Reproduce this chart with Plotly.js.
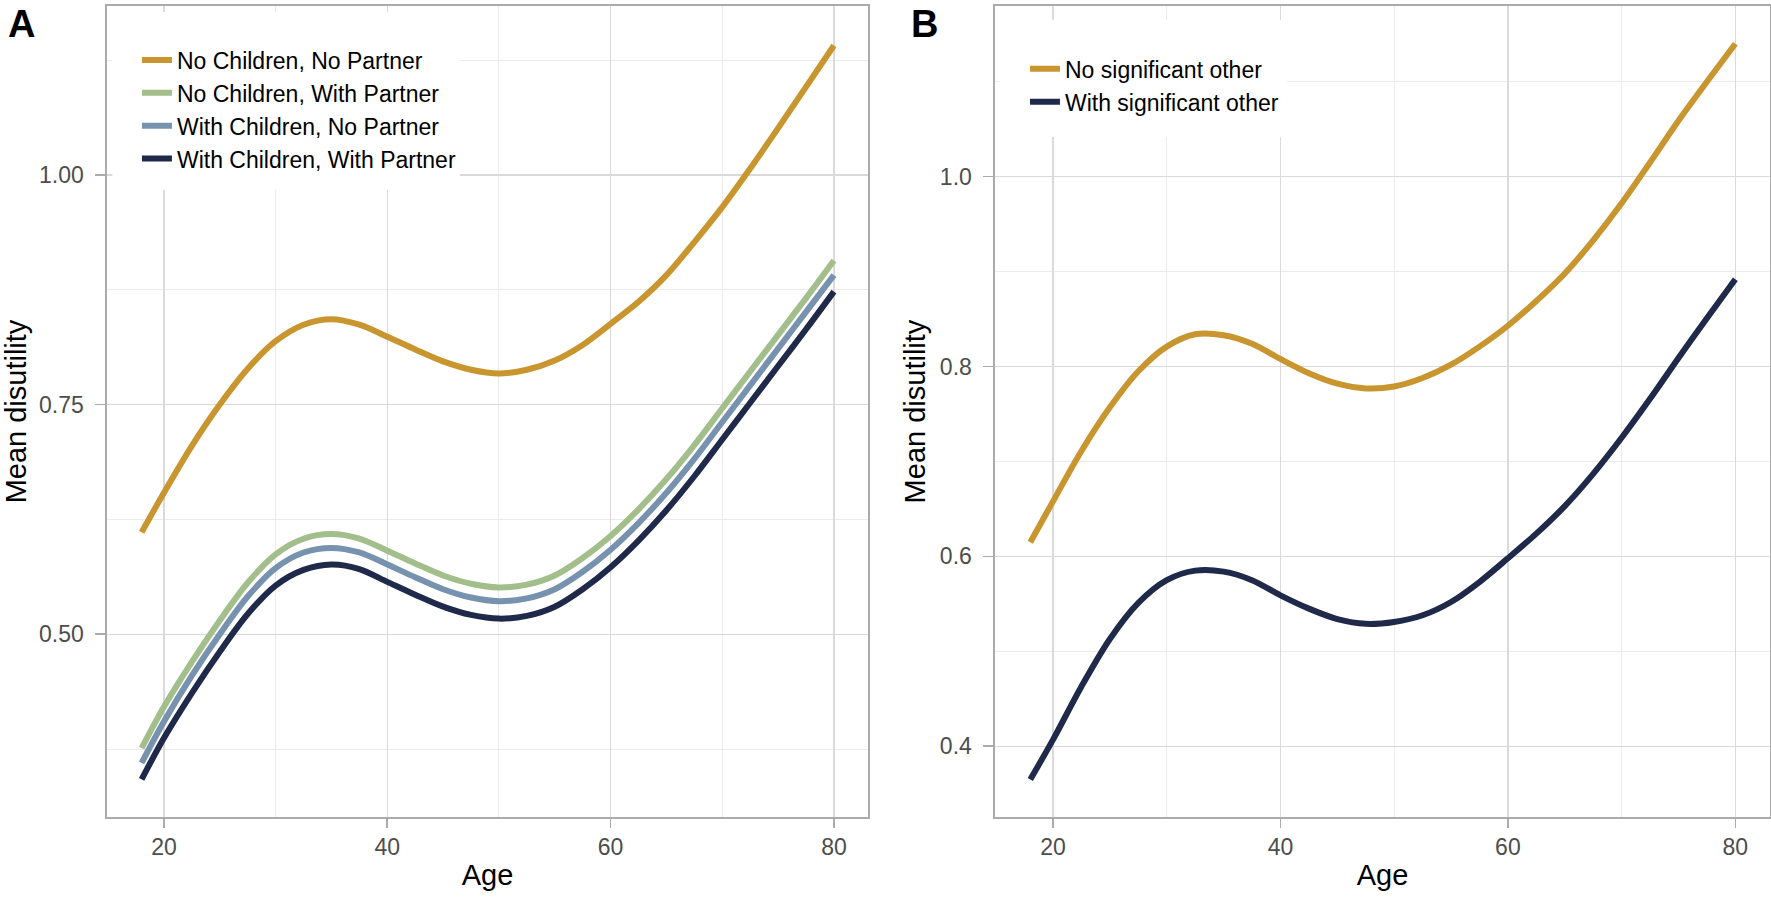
<!DOCTYPE html>
<html>
<head>
<meta charset="utf-8">
<script src="https://cdn.plot.ly/plotly-3.0.1.min.js"></script>
<style>
  html, body { margin: 0; padding: 0; background: #fff; }
  #chart { width: 1771px; height: 902px; }
</style>
</head>
<body>
<div id="chart"></div>
<script>
// Ages at which the curves were read
const ages = [18, 20, 22.5, 25, 27.5, 30, 32.5, 35, 37.5, 40, 42.5, 45, 47.5, 50, 52.5, 55, 57.5, 60, 62.5, 65, 67.5, 70, 72.5, 75, 77.5, 80];

// Panel A series
const noChildNoPartner     = [0.611, 0.654, 0.705, 0.750, 0.789, 0.819, 0.837, 0.843, 0.837, 0.824, 0.810, 0.797, 0.788, 0.784, 0.788, 0.798, 0.815, 0.838, 0.862, 0.891, 0.927, 0.965, 1.007, 1.051, 1.096, 1.141];
const noChildWithPartner   = [0.376, 0.421, 0.470, 0.515, 0.556, 0.587, 0.604, 0.609, 0.604, 0.591, 0.577, 0.564, 0.555, 0.551, 0.554, 0.564, 0.583, 0.607, 0.636, 0.669, 0.706, 0.746, 0.786, 0.826, 0.866, 0.907];
const withChildNoPartner   = [0.360, 0.405, 0.455, 0.500, 0.541, 0.572, 0.589, 0.594, 0.589, 0.576, 0.562, 0.549, 0.540, 0.536, 0.539, 0.549, 0.568, 0.592, 0.621, 0.654, 0.691, 0.731, 0.771, 0.811, 0.851, 0.891];
const withChildWithPartner = [0.342, 0.387, 0.436, 0.481, 0.522, 0.553, 0.570, 0.576, 0.571, 0.557, 0.543, 0.530, 0.521, 0.517, 0.520, 0.530, 0.549, 0.573, 0.602, 0.635, 0.672, 0.712, 0.752, 0.792, 0.832, 0.873];

// Panel B series
const noSignificantOther   = [0.615, 0.658, 0.711, 0.757, 0.795, 0.821, 0.834, 0.833, 0.824, 0.808, 0.793, 0.782, 0.777, 0.779, 0.788, 0.802, 0.821, 0.843, 0.869, 0.898, 0.933, 0.972, 1.015, 1.059, 1.100, 1.140];
const withSignificantOther = [0.365, 0.407, 0.463, 0.513, 0.551, 0.575, 0.585, 0.584, 0.575, 0.559, 0.545, 0.534, 0.529, 0.531, 0.538, 0.552, 0.573, 0.598, 0.624, 0.653, 0.687, 0.725, 0.766, 0.809, 0.851, 0.892];

const namesA = ["No Children, No Partner", "No Children, With Partner", "With Children, No Partner", "With Children, With Partner"];
const namesB = ["No significant other", "With significant other"];

const C_ORANGE = "#C8952F", C_GREEN = "#A2BE8A", C_STEEL = "#7792AE", C_NAVY = "#1F294A";
const LW = 6;
const FONT = "Liberation Sans, Arial, sans-serif";

function tr(y, name, color, xa, ya, leg) {
  return { x: ages, y: y, name: name, type: "scatter", mode: "lines",
           line: { color: color, width: LW, shape: "spline", smoothing: 0.9 },
           xaxis: xa, yaxis: ya, legend: leg, hoverinfo: "skip" };
}

const data = [
  tr(noChildNoPartner,     namesA[0], C_ORANGE, "x", "y", "legend"),
  tr(noChildWithPartner,   namesA[1], C_GREEN,  "x", "y", "legend"),
  tr(withChildNoPartner,   namesA[2], C_STEEL,  "x", "y", "legend"),
  tr(withChildWithPartner, namesA[3], C_NAVY,   "x", "y", "legend"),
  tr(noSignificantOther,   namesB[0], C_ORANGE, "x2", "y2", "legend2"),
  tr(withSignificantOther, namesB[1], C_NAVY,   "x2", "y2", "legend2")
];

const GRID = "#DADADA", MINOR = "#EBEBEB", BORDER = "#ABABAB";
function xax(domain, anchor) {
  return {
    domain: domain, anchor: anchor, range: [14.9, 83.05], dtick: 20, tick0: 0,
    showgrid: true, gridcolor: GRID, gridwidth: 1.3,
    minor: { dtick: 10, showgrid: true, gridcolor: MINOR, gridwidth: 1 },
    showline: true, mirror: true, linecolor: BORDER, linewidth: 1.6,
    ticks: "outside", ticklen: 9, tickwidth: 1.6, tickcolor: BORDER,
    tickfont: { family: FONT, size: 23, color: "#4D4D4D" },
    ticklabelstandoff: 0,
    zeroline: false, fixedrange: true,
    title: { text: "Age", font: { family: FONT, size: 29, color: "#000" }, standoff: 5 }
  };
}
function yax(range, dtick, mdtick, fmt, anchor) {
  return {
    domain: [0, 1], anchor: anchor, range: range, dtick: dtick, tick0: 0, tickformat: fmt,
    showgrid: true, gridcolor: GRID, gridwidth: 1.3,
    minor: { dtick: mdtick, showgrid: true, gridcolor: MINOR, gridwidth: 1 },
    showline: true, mirror: true, linecolor: BORDER, linewidth: 1.6,
    ticks: "outside", ticklen: 10, tickwidth: 1.6, tickcolor: BORDER,
    tickfont: { family: FONT, size: 23, color: "#4D4D4D" },
    ticklabelstandoff: 7,
    zeroline: false, fixedrange: true,
    title: { text: "Mean disutility", font: { family: FONT, size: 29, color: "#000" }, standoff: 6 }
  };
}

const layout = {
  width: 1771, height: 902,
  margin: { l: 107, r: 1, t: 6, b: 85 },
  paper_bgcolor: "#fff", plot_bgcolor: "#fff",
  font: { family: FONT },
  xaxis: xax([0, 0.4576], "y"),
  yaxis: yax([0.301, 1.184], 0.25, 0.125, ".2f", "x"),
  xaxis2: xax([0.534, 1.0], "y2"),
  yaxis2: yax([0.3255, 1.1798], 0.2, 0.1, ".1f", "x2"),
  showlegend: true,
  legend: {
    x: 0.018, y: 0.960, xanchor: "left", yanchor: "top",
    bgcolor: "rgba(0,0,0,0)", borderwidth: 0,
    font: { family: FONT, size: 23, color: "#000" }, tracegroupgap: 0
  },
  legend2: {
    x: 0.552, y: 0.949, xanchor: "left", yanchor: "top",
    bgcolor: "rgba(0,0,0,0)", borderwidth: 0,
    font: { family: FONT, size: 23, color: "#000" }, tracegroupgap: 0
  },
  shapes: [
    { type: "rect", xref: "x domain", yref: "y domain", x0: 0.007, x1: 0.464, y0: 0.773, y1: 0.9926,
      fillcolor: "#fff", line: { width: 0 }, layer: "above" },
    { type: "rect", xref: "x2 domain", yref: "y2 domain", x0: 0.006, x1: 0.377, y0: 0.8385, y1: 0.983,
      fillcolor: "#fff", line: { width: 0 }, layer: "above" }
  ],
  annotations: [
    { text: "<b>A</b>", xref: "paper", yref: "paper", x: -0.0517, y: 0.9784, xanchor: "center", yanchor: "middle",
      showarrow: false, font: { family: FONT, size: 38, color: "#000" } },
    { text: "<b>B</b>", xref: "paper", yref: "paper", x: 0.4916, y: 0.9784, xanchor: "center", yanchor: "middle",
      showarrow: false, font: { family: FONT, size: 38, color: "#000" } }
  ]
};

Plotly.newPlot("chart", data, layout, { displayModeBar: false, staticPlot: true });
</script>
</body>
</html>
